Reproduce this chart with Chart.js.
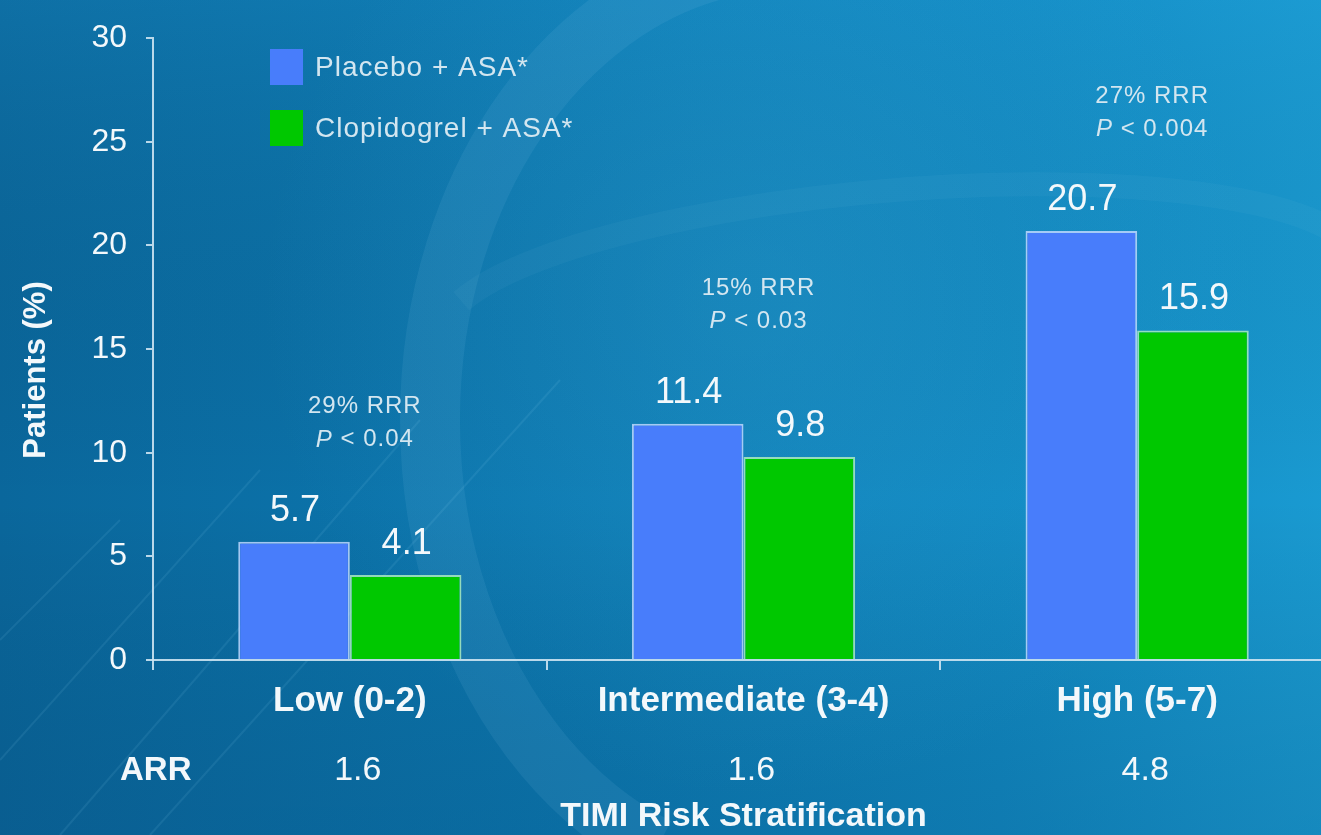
<!DOCTYPE html>
<html>
<head>
<meta charset="utf-8">
<title>TIMI Risk Stratification</title>
<script src="https://cdn.jsdelivr.net/npm/chart.js@4.4.1/dist/chart.umd.min.js"></script>
<style>
  html, body { margin: 0; padding: 0; overflow: hidden; background: #0b6da3; }
  #wrap { position: relative; width: 1334px; height: 835px; }
</style>
</head>
<body>
<div id="wrap"><canvas id="chart" width="1334" height="835"></canvas></div>
<script>
// Event rates by TIMI risk group
const categories = ['Low (0-2)', 'Intermediate (3-4)', 'High (5-7)'];
const placeboAsa = [5.7, 11.4, 20.7];
const clopidogrelAsa = [4.1, 9.8, 15.9];
const rrrLabels = ['29% RRR', '15% RRR', '27% RRR'];
const pValues = ['0.04', '0.03', '0.004'];
const arrValues = ['1.6', '1.6', '4.8'];
const yTicks = [0, 5, 10, 15, 20, 25, 30];

const FONT = '"Liberation Sans", Arial, Helvetica, sans-serif';
const AXIS = 'rgba(205,228,242,0.9)';
const TEXT = '#f3f8fb';
const NOTE = '#d3e6f0';

// Blue backdrop with a soft globe outline and light streaks
const backdrop = {
  id: 'backdrop',
  beforeDraw(chart) {
    const ctx = chart.ctx, w = chart.width, h = chart.height;
    ctx.save();
    const g = ctx.createLinearGradient(0, 0, w, 0);
    g.addColorStop(0, '#0a679c');
    g.addColorStop(0.4, '#0c78b0');
    g.addColorStop(0.75, '#1189c2');
    g.addColorStop(1, '#1a9bd2');
    ctx.fillStyle = g;
    ctx.fillRect(0, 0, w, h);

    const v = ctx.createLinearGradient(0, 0, 0, h);
    v.addColorStop(0, 'rgba(40,160,215,0.15)');
    v.addColorStop(0.6, 'rgba(0,0,0,0)');
    v.addColorStop(1, 'rgba(0,40,80,0.15)');
    ctx.fillStyle = v;
    ctx.fillRect(0, 0, w, h);

    const r = ctx.createRadialGradient(760, 300, 40, 760, 300, 500);
    r.addColorStop(0, 'rgba(70,185,230,0.18)');
    r.addColorStop(1, 'rgba(70,185,230,0)');
    ctx.fillStyle = r;
    ctx.fillRect(0, 0, w, h);

    // globe rim
    ctx.strokeStyle = 'rgba(150,215,245,0.09)';
    ctx.lineWidth = 60;
    ctx.beginPath();
    ctx.ellipse(790, 420, 360, 460, 0, Math.PI * 0.62, Math.PI * 1.55);
    ctx.stroke();
    ctx.strokeStyle = 'rgba(150,215,245,0.05)';
    ctx.lineWidth = 24;
    ctx.beginPath();
    ctx.ellipse(900, 300, 460, 110, -0.08, Math.PI * 1.1, Math.PI * 1.9);
    ctx.stroke();

    ctx.strokeStyle = 'rgba(150,215,245,0.1)';
    ctx.lineWidth = 2;
    [[0, 760, 260, 470], [60, 835, 420, 420], [150, 835, 560, 380], [0, 640, 120, 520]].forEach(s => {
      ctx.beginPath();
      ctx.moveTo(s[0], s[1]);
      ctx.lineTo(s[2], s[3]);
      ctx.stroke();
    });
    ctx.restore();
  }
};

// Axis title, legend, value labels, RRR notes and ARR row
const notes = {
  id: 'notes',
  afterDraw(chart) {
    const ctx = chart.ctx;
    const xs = chart.scales.x, ys = chart.scales.y;
    ctx.save();

    // y-axis title
    ctx.save();
    ctx.translate(36, 370);
    ctx.rotate(-Math.PI / 2);
    ctx.fillStyle = TEXT;
    ctx.font = `bold 31px ${FONT}`;
    ctx.textAlign = 'center';
    ctx.textBaseline = 'middle';
    ctx.fillText('Patients (%)', 0, 0);
    ctx.restore();

    // legend
    chart.data.datasets.forEach((ds, i) => {
      const top = 49 + i * 61;
      ctx.fillStyle = ds.backgroundColor;
      ctx.fillRect(270, top, 33, 36);
      ctx.fillStyle = NOTE;
      ctx.font = `28px ${FONT}`;
      ctx.letterSpacing = '1px';
      ctx.textAlign = 'left';
      ctx.textBaseline = 'middle';
      ctx.fillText(ds.label, 315, top + 19);
    });

    // values above bars
    ctx.letterSpacing = '0px';
    ctx.fillStyle = TEXT;
    ctx.font = `36px ${FONT}`;
    ctx.textAlign = 'center';
    ctx.textBaseline = 'middle';
    chart.data.datasets.forEach((ds, i) => {
      chart.getDatasetMeta(i).data.forEach((bar, j) => {
        ctx.fillText(ds.data[j].toFixed(1), bar.x + 1, bar.y - 31);
      });
    });

    // RRR and P value above each group
    ctx.letterSpacing = '1px';
    categories.forEach((c, j) => {
      const peak = Math.max(placeboAsa[j], clopidogrelAsa[j]);
      const cx = xs.getPixelForValue(j) + 15;
      const y2 = ys.getPixelForValue(peak) - 102;
      ctx.fillStyle = NOTE;
      ctx.font = `24px ${FONT}`;
      ctx.textAlign = 'center';
      ctx.fillText(rrrLabels[j], cx, y2 - 33);
      const italic = `italic 24px ${FONT}`, plain = `24px ${FONT}`;
      ctx.font = italic;
      const wp = ctx.measureText('P').width;
      ctx.font = plain;
      const rest = ' < ' + pValues[j];
      const wr = ctx.measureText(rest).width;
      const x0 = cx - (wp + wr) / 2;
      ctx.textAlign = 'left';
      ctx.font = italic;
      ctx.fillText('P', x0, y2);
      ctx.font = plain;
      ctx.fillText(rest, x0 + wp, y2);
    });

    // ARR row
    ctx.letterSpacing = '0px';
    ctx.fillStyle = TEXT;
    ctx.font = `bold 33px ${FONT}`;
    ctx.textAlign = 'left';
    ctx.fillText('ARR', 120, 771);
    ctx.textAlign = 'center';
    ctx.font = `34px ${FONT}`;
    arrValues.forEach((a, j) => {
      ctx.fillText(a, xs.getPixelForValue(j) + 8, 771);
    });
    ctx.restore();
  }
};

new Chart(document.getElementById('chart'), {
  type: 'bar',
  data: {
    labels: categories,
    datasets: [
      {
        label: 'Placebo + ASA*',
        data: placeboAsa,
        backgroundColor: '#487dfb',
        borderColor: 'rgba(190,215,255,0.85)',
        borderWidth: 2,
        borderSkipped: 'bottom'
      },
      {
        label: 'Clopidogrel + ASA*',
        data: clopidogrelAsa,
        backgroundColor: '#00c800',
        borderColor: 'rgba(170,235,190,0.85)',
        borderWidth: 2,
        borderSkipped: 'bottom'
      }
    ]
  },
  options: {
    responsive: false,
    animation: false,
    devicePixelRatio: 1,
    categoryPercentage: 0.567,
    barPercentage: 1.0,
    layout: { padding: { top: 34, right: 0, bottom: 0, left: 0 } },
    plugins: { legend: { display: false }, tooltip: { enabled: false } },
    scales: {
      x: {
        grid: { drawOnChartArea: false, drawTicks: true, tickLength: 10, color: AXIS, lineWidth: 2, offset: true },
        border: { display: true, color: AXIS, width: 2 },
        ticks: { color: TEXT, font: { family: FONT, size: 35, weight: 'bold' }, padding: 10, maxRotation: 0 },
        title: {
          display: true, text: 'TIMI Risk Stratification', color: TEXT,
          font: { family: FONT, size: 34, weight: 'bold' }, padding: { top: 0, bottom: -2 }
        },
        afterFit(s) { s.height = 175; }
      },
      y: {
        min: 0, max: 30,
        afterBuildTicks(s) { s.ticks = yTicks.map(v => ({ value: v })); },
        grid: { drawOnChartArea: false, drawTicks: true, tickLength: 7, color: AXIS, lineWidth: 2 },
        border: { display: true, color: AXIS, width: 2 },
        ticks: { color: TEXT, font: { family: FONT, size: 32 }, padding: 19 },
        afterFit(s) { s.width = 153; }
      }
    }
  },
  plugins: [backdrop, notes]
});
</script>
</body>
</html>
